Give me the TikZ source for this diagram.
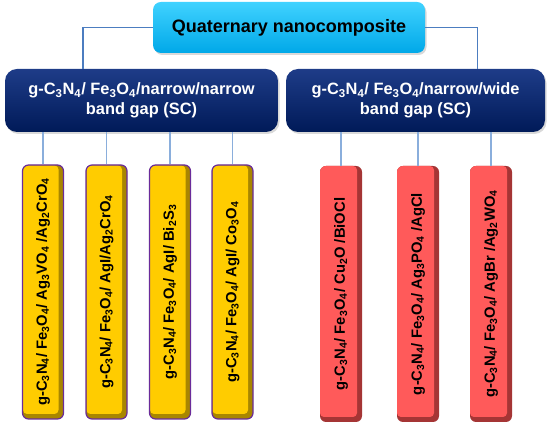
\documentclass[tikz,border=0pt]{standalone}
\usepackage{fontspec}
\setmainfont{Liberation Sans}
\usetikzlibrary{shadows}
\definecolor{cyanA}{HTML}{40D2FF}
\definecolor{cyanB}{HTML}{00A8E8}
\definecolor{navyA}{HTML}{1E3C88}
\definecolor{navyM}{HTML}{0B2565}
\definecolor{navyB}{HTML}{001A58}
\definecolor{gold}{HTML}{FFCC00}
\definecolor{goldD}{HTML}{A88600}
\definecolor{purp}{HTML}{6A2C9A}
\definecolor{redL}{HTML}{FF5A5A}
\definecolor{redD}{HTML}{A53535}
\definecolor{lnk}{HTML}{8AAEDC}
\definecolor{lnkD}{HTML}{4C7DC0}
\newcommand{\sbs}[1]{\textsubscript{#1}}
\tikzset{
  topbox/.style={rounded corners=8pt, minimum width=272pt, minimum height=51pt, inner sep=0pt,
    top color=cyanA, bottom color=cyanB,
    drop shadow={opacity=0.3, shadow xshift=1.5pt, shadow yshift=-2pt},
    font=\bfseries\fontsize{18}{21}\selectfont, text=black},
  midbox/.style={rounded corners=12pt, minimum height=63pt, inner sep=0pt,
    top color=navyA, middle color=navyM, bottom color=navyB,
    drop shadow={opacity=0.3, shadow xshift=1.5pt, shadow yshift=-2pt},
    font=\bfseries\fontsize{16.4}{20}\selectfont, text=white, align=center},
  ycol/.style={rounded corners=6pt, minimum width=41pt, minimum height=254pt, inner sep=0pt,
    draw=purp, line width=1.2pt, fill=goldD,
    path picture={\fill[gold, rounded corners=4pt]
      ([shift={(0.5pt,-0.5pt)}]path picture bounding box.north west) rectangle
      ([shift={(-5pt,5pt)}]path picture bounding box.south east);},
    font=\bfseries\fontsize{14.8}{17}\selectfont, text=black},
  rcol/.style={rounded corners=6pt, minimum width=42pt, minimum height=256pt, inner sep=0pt,
    fill=redD,
    path picture={\fill[redL, rounded corners=4pt]
      ([shift={(0pt,0pt)}]path picture bounding box.north west) rectangle
      ([shift={(-5pt,5pt)}]path picture bounding box.south east);},
    font=\bfseries\fontsize{14.8}{17}\selectfont, text=black},
  link/.style={draw=lnk, line width=1.2pt},
  toplink/.style={draw=lnkD, line width=1.5pt}
}
\begin{document}
\begin{tikzpicture}[x=1pt,y=1pt]
\useasboundingbox (0,0) rectangle (550,423);
\node[topbox] (T) at (289,395.5) {Quaternary nanocomposite};
\node[midbox, minimum width=273pt] (L) at (141.5,322.5) {g-C\sbs{3}N\sbs{4}/ Fe\sbs{3}O\sbs{4}/narrow/narrow\\band gap (SC)};
\node[midbox, minimum width=259pt] (R) at (415.5,322.5) {g-C\sbs{3}N\sbs{4}/ Fe\sbs{3}O\sbs{4}/narrow/wide\\band gap (SC)};
\node[ycol] (y1) at (43,131) {\rotatebox{90}{g-C\sbs{3}N\sbs{4}/ Fe\sbs{3}O\sbs{4}/ Ag\sbs{3}VO\sbs{4} /Ag\sbs{2}CrO\sbs{4}}};
\node[ycol] (y2) at (106.5,131) {\rotatebox{90}{g-C\sbs{3}N\sbs{4}/ Fe\sbs{3}O\sbs{4}/ AgI/Ag\sbs{2}CrO\sbs{4}}};
\node[ycol] (y3) at (170,131) {\rotatebox{90}{g-C\sbs{3}N\sbs{4}/ Fe\sbs{3}O\sbs{4}/ AgI/ Bi\sbs{2}S\sbs{3}}};
\node[ycol] (y4) at (232.5,131) {\rotatebox{90}{g-C\sbs{3}N\sbs{4}/ Fe\sbs{3}O\sbs{4}/ AgI/ Co\sbs{3}O\sbs{4}}};
\node[rcol] (r1) at (341,129) {\rotatebox{90}{g-C\sbs{3}N\sbs{4}/ Fe\sbs{3}O\sbs{4}/ Cu\sbs{2}O /BiOCl}};
\node[rcol] (r2) at (418,129) {\rotatebox{90}{g-C\sbs{3}N\sbs{4}/ Fe\sbs{3}O\sbs{4}/ Ag\sbs{3}PO\sbs{4} /AgCl}};
\node[rcol] (r3) at (491,129) {\rotatebox{90}{g-C\sbs{3}N\sbs{4}/ Fe\sbs{3}O\sbs{4}/ AgBr /Ag\sbs{2}WO\sbs{4}}};
\draw[toplink] (T.west) -| ([xshift=-58.5pt]L.north);
\draw[toplink] (T.east) -| ([xshift=62pt]R.north);
\foreach \c in {y1,y2,y3,y4}{\draw[link] (L.south -| \c.north) -- (\c.north);}
\foreach \c in {r1,r2,r3}{\draw[link] (R.south -| \c.north) -- (\c.north);}
\end{tikzpicture}
\end{document}
